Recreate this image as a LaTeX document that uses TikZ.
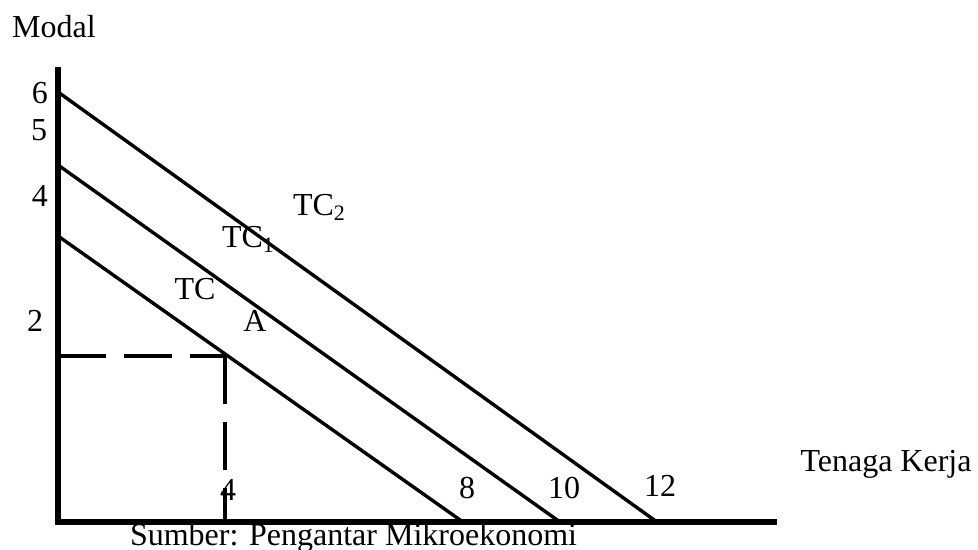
\documentclass[tikz,border=0pt]{standalone}
\usepackage{fontspec}
\setmainfont{Liberation Serif}
\newcommand{\subtxt}[1]{\raisebox{-0.35ex}{\fontsize{11}{11}\selectfont #1}}
\begin{document}
\begin{tikzpicture}[x=0.5pt,y=-0.5pt,
  lbl/.style={inner sep=0pt,outer sep=0pt,anchor=center,font=\fontsize{16}{19}\selectfont},
  axisline/.style={line width=2.8pt,line join=miter},
  budget/.style={line width=1.7pt},
  guide/.style={line width=2.3pt,dash pattern=on 24pt off 9pt}]
\useasboundingbox (0,0) rectangle (978,550);
% axes
\coordinate (ytop) at (58,67);
\coordinate (o) at (58,522);
\coordinate (xend) at (777,522);
\draw[axisline] (ytop) -- (o) -- (xend);
% budget lines
\coordinate (a6) at (58,92);
\coordinate (b12) at (657,522);
\coordinate (a5) at (58,165);
\coordinate (b10) at (560,522);
\coordinate (a4) at (58,236);
\coordinate (b8) at (463,522);
\draw[budget] (a6) -- (b12);
\draw[budget] (a5) -- (b10);
\draw[budget] (a4) -- (b8);
% dashed guides
\coordinate (y2) at (58,356);
\coordinate (pA) at (225,356);
\coordinate (x4) at (225,522);
\draw[guide] (y2) -- (pA);
\draw[guide] (pA) -- (x4);
% labels
\node[lbl] (modal) at (54,27) {Modal};
\node[lbl] (n6) at (40,93) {6};
\node[lbl] (n5) at (39,130) {5};
\node[lbl] (n4) at (40,196) {4};
\node[lbl] (n2) at (35,321) {2};
\node[lbl,anchor=west] (tc2) at (293,207) {TC\subtxt{2}};
\node[lbl,anchor=west] (tc1) at (222,239) {TC\subtxt{1}};
\node[lbl] (tc) at (195,289) {TC};
\node[lbl] (A) at (255,321) {A};
\node[lbl] (x4l) at (228,490) {4};
\node[lbl] (x8l) at (467,488) {8};
\node[lbl] (x10l) at (564,488) {10};
\node[lbl] (x12l) at (660,486) {12};
\node[lbl] (tk) at (886,464) {Tenaga Kerja};
\node[lbl,anchor=west] (src) at (130,538) {Sumber: Pengantar Mikroekonomi};
\end{tikzpicture}
\end{document}
